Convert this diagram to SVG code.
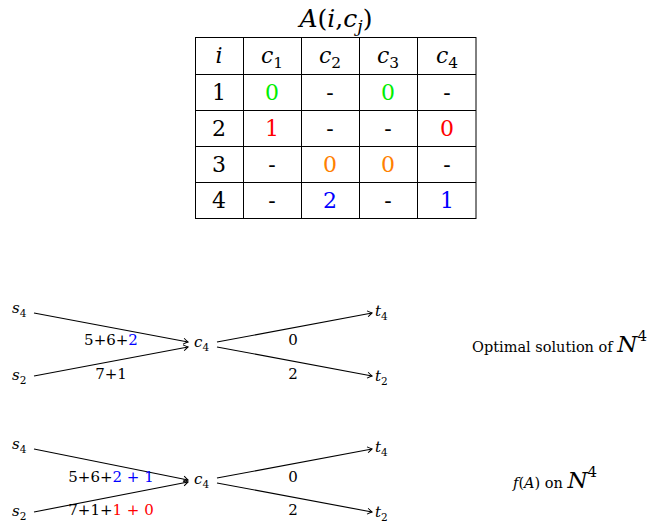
<svg xmlns="http://www.w3.org/2000/svg" width="658" height="525" viewBox="0 0 658 525">
<style>
text{font-family:'DejaVu Serif','Liberation Serif',serif;fill:#000}
.t{font-size:22px;text-anchor:middle}
.g{font-size:15px}
.m{font-style:italic}
.sub{font-size:70%;font-style:normal}
.c{text-anchor:middle}
.lab{font-size:14.5px}
.grid{fill:none;stroke:#000;stroke-width:1}
.edge{fill:none;stroke:#000;stroke-width:1.1;marker-end:url(#arr)}
.gr{fill:#00ee00}.rd{fill:#ff0000}.or{fill:#ff8000}.bl{fill:#0000ff}
</style>
<defs>
<marker id="arr" markerUnits="userSpaceOnUse" markerWidth="10" markerHeight="10" refX="0" refY="0" viewBox="-6 -5 8 10" orient="auto">
<path d="M-4.5,-3 Q-1.5,-0.8 0,0 Q-1.5,0.8 -4.5,3" fill="none" stroke="#000" stroke-width="1"/>
</marker>
</defs>

<g id="table">
<text x="336" y="27" class="t" style="font-size:25px"><tspan class="m">A</tspan>(<tspan class="m">i</tspan>,<tspan class="m">c</tspan><tspan class="m" font-size="70%" dy="5">j</tspan><tspan dy="-5">)</tspan></text>
<rect x="195.5" y="37.5" width="280.5" height="181" class="grid"/>
<path class="grid" d="M243.5,37.5V218.5M301.5,37.5V218.5M359.5,37.5V218.5M417.5,37.5V218.5M195.5,74.5H476M195.5,110.5H476M195.5,146.5H476M195.5,182.5H476"/>
<text x="219" y="63" class="t m">i</text>
<text x="272" y="63" class="t"><tspan class="m">c</tspan><tspan class="sub" dy="5">1</tspan></text>
<text x="330" y="63" class="t"><tspan class="m">c</tspan><tspan class="sub" dy="5">2</tspan></text>
<text x="388" y="63" class="t"><tspan class="m">c</tspan><tspan class="sub" dy="5">3</tspan></text>
<text x="447" y="63" class="t"><tspan class="m">c</tspan><tspan class="sub" dy="5">4</tspan></text>
<text x="219" y="100" class="t">1</text>
<text x="272" y="100" class="t gr">0</text>
<text x="330" y="100" class="t">-</text>
<text x="388" y="100" class="t gr">0</text>
<text x="447" y="100" class="t">-</text>
<text x="219" y="136" class="t">2</text>
<text x="272" y="136" class="t rd">1</text>
<text x="330" y="136" class="t">-</text>
<text x="388" y="136" class="t">-</text>
<text x="447" y="136" class="t rd">0</text>
<text x="219" y="172" class="t">3</text>
<text x="272" y="172" class="t">-</text>
<text x="330" y="172" class="t or">0</text>
<text x="388" y="172" class="t or">0</text>
<text x="447" y="172" class="t">-</text>
<text x="219" y="208" class="t">4</text>
<text x="272" y="208" class="t">-</text>
<text x="330" y="208" class="t bl">2</text>
<text x="388" y="208" class="t">-</text>
<text x="447" y="208" class="t bl">1</text>
</g>

<!-- Graph 1 -->
<g id="g1-s4"><text x="12" y="313" class="g"><tspan class="m">s</tspan><tspan class="sub" dy="4">4</tspan></text></g>
<g id="g1-s2"><text x="12" y="380" class="g"><tspan class="m">s</tspan><tspan class="sub" dy="4">2</tspan></text></g>
<g id="g1-c4"><text x="194" y="347" class="g"><tspan class="m">c</tspan><tspan class="sub" dy="4">4</tspan></text></g>
<g id="g1-t4"><text x="375" y="316" class="g"><tspan class="m">t</tspan><tspan class="sub" dy="4">4</tspan></text></g>
<g id="g1-t2"><text x="375" y="381" class="g"><tspan class="m">t</tspan><tspan class="sub" dy="4">2</tspan></text></g>
<g id="g1-connectors">
<line class="edge" x1="34" y1="313" x2="188" y2="342"/>
<line class="edge" x1="34" y1="376" x2="188" y2="347"/>
<line class="edge" x1="217" y1="342" x2="372" y2="313"/>
<line class="edge" x1="217" y1="347" x2="372" y2="376"/>
<text x="111" y="345" class="g c">5+6+<tspan class="bl">2</tspan></text>
<text x="111" y="379" class="g c">7+1</text>
<text x="293" y="345" class="g c">0</text>
<text x="293" y="379" class="g c">2</text>
</g>
<g id="label1"><text x="472" y="352" class="lab">Optimal solution of <tspan class="m" font-size="23">N</tspan><tspan font-size="15" dy="-11">4</tspan></text></g>

<!-- Graph 2 -->
<g id="g2-s4"><text x="12" y="449" class="g"><tspan class="m">s</tspan><tspan class="sub" dy="4">4</tspan></text></g>
<g id="g2-s2"><text x="12" y="516" class="g"><tspan class="m">s</tspan><tspan class="sub" dy="4">2</tspan></text></g>
<g id="g2-c4"><text x="194" y="484" class="g"><tspan class="m">c</tspan><tspan class="sub" dy="4">4</tspan></text></g>
<g id="g2-t4"><text x="375" y="452" class="g"><tspan class="m">t</tspan><tspan class="sub" dy="4">4</tspan></text></g>
<g id="g2-t2"><text x="375" y="517" class="g"><tspan class="m">t</tspan><tspan class="sub" dy="4">2</tspan></text></g>
<g id="g2-connectors">
<line class="edge" x1="34" y1="449" x2="188" y2="480"/>
<line class="edge" x1="34" y1="512" x2="188" y2="482"/>
<line class="edge" x1="217" y1="478" x2="372" y2="449"/>
<line class="edge" x1="217" y1="483" x2="372" y2="512"/>
<text x="111" y="482" class="g c">5+6+<tspan class="bl">2 + 1</tspan></text>
<text x="111" y="515" class="g c">7+1+<tspan class="rd">1 + 0</tspan></text>
<text x="293" y="482" class="g c">0</text>
<text x="293" y="515" class="g c">2</text>
</g>
<g id="label2"><text x="513" y="488" class="lab"><tspan class="m">f</tspan>(<tspan class="m">A</tspan>) on <tspan class="m" font-size="23">N</tspan><tspan font-size="15" dy="-11">4</tspan></text></g>
</svg>
